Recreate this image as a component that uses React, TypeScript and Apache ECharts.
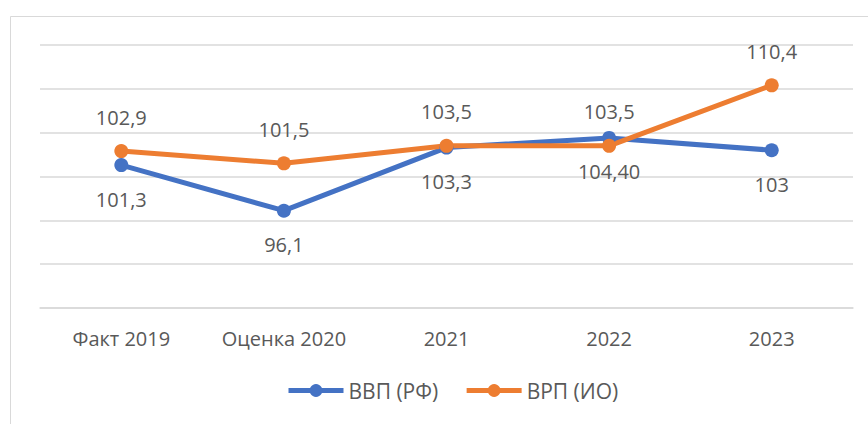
import React, { useEffect, useRef } from "react";
import * as echarts from "echarts";

const categories = ["Факт 2019", "Оценка 2020", "2021", "2022", "2023"];
const gdpValues = [101.3, 96.1, 103.3, 104.4, 103];
const gdpLabels = ["101,3", "96,1", "103,3", "104,40", "103"];
const grpValues = [102.9, 101.5, 103.5, 103.5, 110.4];
const grpLabels = ["102,9", "101,5", "103,5", "103,5", "110,4"];
const seriesNames = ["ВВП (РФ)", "ВРП (ИО)"];

const FONT = "'Open Sans', sans-serif";
const TEXT = "#595959";

export default function App() {
  const ref = useRef<HTMLDivElement>(null);
  useEffect(() => {
    document.body.style.margin = "0";
    const chart = echarts.init(ref.current!, undefined, { renderer: "svg" });
    chart.setOption({
      animation: false,
      backgroundColor: "#ffffff",
      textStyle: { fontFamily: FONT },
      graphic: [
        {
          type: "rect",
          shape: { x: 10.5, y: 16.5, width: 900, height: 500 },
          style: { fill: "none", stroke: "#D9D9D9", lineWidth: 1 },
          silent: true,
        },
      ],
      grid: { left: 40, right: 15, top: 45, bottom: 116 },
      legend: {
        bottom: 18,
        left: 281,
        itemWidth: 55,
        itemHeight: 16,
        itemGap: 26,
        lineStyle: { width: 5 },
        textStyle: { color: TEXT, fontSize: 21, fontFamily: FONT },
        data: seriesNames,
      },
      xAxis: {
        type: "category",
        data: categories,
        axisLine: { lineStyle: { color: "#D9D9D9", width: 1.5 } },
        axisTick: { show: false },
        axisLabel: { color: TEXT, fontSize: 20, fontFamily: FONT, margin: 20 },
      },
      yAxis: {
        type: "value",
        min: 85,
        max: 115,
        interval: 5,
        axisLabel: { show: false },
        axisLine: { show: false },
        axisTick: { show: false },
        splitLine: { lineStyle: { color: "#D9D9D9", width: 1.5 } },
      },
      series: [
        {
          name: seriesNames[0],
          type: "line",
          data: gdpValues,
          symbol: "circle",
          symbolSize: 14,
          lineStyle: { color: "#4472C4", width: 5 },
          itemStyle: { color: "#4472C4" },
          label: {
            show: true,
            position: "bottom",
            distance: 17,
            color: TEXT,
            fontSize: 20,
            fontFamily: FONT,
            formatter: (p: any) => gdpLabels[p.dataIndex],
          },
        },
        {
          name: seriesNames[1],
          type: "line",
          data: grpValues,
          symbol: "circle",
          symbolSize: 14,
          lineStyle: { color: "#ED7D31", width: 5 },
          itemStyle: { color: "#ED7D31" },
          label: {
            show: true,
            position: "top",
            distance: 17,
            color: TEXT,
            fontSize: 20,
            fontFamily: FONT,
            formatter: (p: any) => grpLabels[p.dataIndex],
          },
        },
      ],
    });
    return () => chart.dispose();
  }, []);
  return (
    <div
      ref={ref}
      style={{ position: "absolute", left: 0, top: 0, width: 868, height: 424 }}
    />
  );
}
